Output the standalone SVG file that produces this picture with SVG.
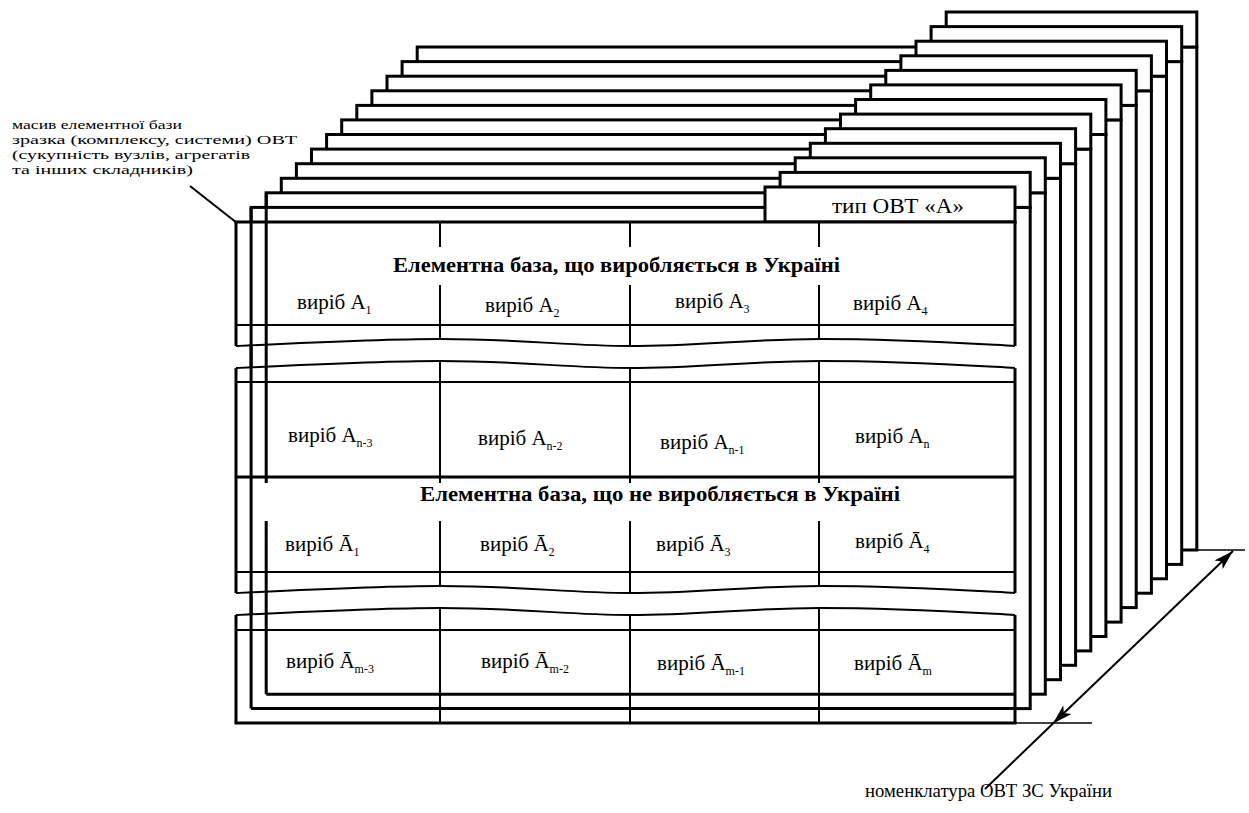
<svg xmlns="http://www.w3.org/2000/svg" width="1249" height="813" viewBox="0 0 1249 813">
<style>
.fr{fill:#fff;stroke:#000;stroke-width:3}
.th{fill:none;stroke:#000;stroke-width:3}
.tn{fill:none;stroke:#000;stroke-width:2}
.ln{fill:none;stroke:#000;stroke-width:1.6}
.t{font-family:"Liberation Serif","DejaVu Serif",serif;font-size:21px;fill:#000}
.h{font-family:"Liberation Serif","DejaVu Serif",serif;font-size:20px;font-weight:bold;fill:#000}
.s{font-size:12px}
.lb{font-family:"Liberation Serif","DejaVu Serif",serif;font-size:13.5px;fill:#000}
</style>
<defs>
<marker id="ah" viewBox="0 0 20 12" refX="20" refY="6" markerWidth="20" markerHeight="12" markerUnits="userSpaceOnUse" orient="auto-start-reverse">
<path d="M0,0 L20,6 L0,12 L5,6 Z" fill="#000"/>
</marker>
</defs>
<rect width="1249" height="813" fill="#fff"/>

<g id="frames-back">
<g id="frame12"><rect class="fr" x="417.2" y="47" width="779.6" height="503"/><rect class="fr" x="946.2" y="12" width="250.6" height="35"/></g>
<g id="frame11"><rect class="fr" x="402.1" y="61.6" width="779.6" height="502.8"/><rect class="fr" x="931.1" y="26.6" width="250.6" height="35"/></g>
<g id="frame10"><rect class="fr" x="387" y="76.2" width="779.5" height="502.6"/><rect class="fr" x="916" y="41.2" width="250.5" height="35"/></g>
<g id="frame9"><rect class="fr" x="371.9" y="90.8" width="779.5" height="502.4"/><rect class="fr" x="900.9" y="55.8" width="250.5" height="35"/></g>
<g id="frame8"><rect class="fr" x="356.8" y="105.4" width="779.4" height="502.2"/><rect class="fr" x="885.8" y="70.4" width="250.4" height="35"/></g>
<g id="frame7"><rect class="fr" x="341.7" y="119.9" width="779.4" height="502.2"/><rect class="fr" x="870.7" y="84.9" width="250.4" height="35"/></g>
<g id="frame6"><rect class="fr" x="326.6" y="134.5" width="779.3" height="502"/><rect class="fr" x="855.6" y="99.5" width="250.3" height="35"/></g>
<g id="frame5"><rect class="fr" x="311.5" y="149.1" width="779.3" height="501.8"/><rect class="fr" x="840.5" y="114.1" width="250.3" height="35"/></g>
<g id="frame4"><rect class="fr" x="296.4" y="163.7" width="779.2" height="501.6"/><rect class="fr" x="825.4" y="128.7" width="250.2" height="35"/></g>
<g id="frame3"><rect class="fr" x="281.3" y="178.3" width="779.2" height="501.4"/><rect class="fr" x="810.3" y="143.3" width="250.2" height="35"/></g>
<g id="frame2"><rect class="fr" x="266.2" y="192.8" width="779.1" height="501.4"/><rect class="fr" x="795.2" y="157.8" width="250.1" height="35"/></g>
<g id="frame1"><rect class="fr" x="251.1" y="207.4" width="779.1" height="501.2"/><rect class="fr" x="780.1" y="172.4" width="250.1" height="35"/></g>
</g>

<g id="front-panel">
<g id="type-tab">
<rect class="fr" x="765" y="187" width="250" height="35"/>
<text class="t" x="832" y="213" textLength="132" lengthAdjust="spacingAndGlyphs">тип ОВТ «А»</text>
</g>
<path fill="#fff" d="M236,222 H1015 V346 C960,343 900,339 820,339 C750,339 700,346 630,346 C570,346 520,339 440,339 C380,339 320,342 236,346 Z"/>
<path fill="#fff" d="M236,368 C320,364 380,361 440,361 C520,361 570,368 630,368 C700,368 750,361 820,361 C900,361 960,365 1015,368 V593 C960,590 900,586 820,586 C750,586 700,593 630,593 C570,593 520,586 440,586 C380,586 320,589 236,593 Z"/>
<path fill="#fff" d="M236,615 C320,611 380,608 440,608 C520,608 570,615 630,615 C700,615 750,608 820,608 C900,608 960,612 1015,615 V723 H236 Z"/>
<line class="th" x1="251.1" y1="207.4" x2="251.1" y2="708.6"/>
<line class="th" x1="266.2" y1="192.8" x2="266.2" y2="694.2"/>
<line class="th" x1="251.1" y1="708.6" x2="1015" y2="708.6"/>
<line class="th" x1="266.2" y1="694.2" x2="1015" y2="694.2"/>
<line class="th" x1="234.5" y1="222" x2="1016.5" y2="222"/>
<line class="th" x1="234.5" y1="723" x2="1016.5" y2="723"/>
<path class="th" d="M236,222 V346 M236,368 V593 M236,615 V723 M1015,222 V346 M1015,368 V593 M1015,615 V723"/>
<path class="tn" d="M236,346 C320,342 380,339 440,339 C520,339 570,346 630,346 C700,346 750,339 820,339 C900,339 960,343 1015,346"/>
<path class="tn" d="M236,368 C320,364 380,361 440,361 C520,361 570,368 630,368 C700,368 750,361 820,361 C900,361 960,365 1015,368"/>
<path class="tn" d="M236,593 C320,589 380,586 440,586 C520,586 570,593 630,593 C700,593 750,586 820,586 C900,586 960,590 1015,593"/>
<path class="tn" d="M236,615 C320,611 380,608 440,608 C520,608 570,615 630,615 C700,615 750,608 820,608 C900,608 960,612 1015,615"/>
<path class="tn" d="M236,325 H1015 M236,382 H1015 M236,572 H1015 M236,630 H1015"/>
<line class="th" x1="236" y1="477" x2="1015" y2="477"/>
<path class="tn" d="M440,222 V339 M630,222 V346 M819,222 V339 M440,361 V586 M630,368 V593 M819,361 V586 M440,608 V723 M630,615 V723 M819,608 V723"/>
<rect fill="#fff" x="300" y="247" width="690" height="38"/>
<rect fill="#fff" x="264" y="483" width="749" height="38"/>
<text class="h" x="393" y="272" textLength="447" lengthAdjust="spacingAndGlyphs">Елементна база, що виробляється в Україні</text>
<text class="h" x="420" y="501" textLength="480" lengthAdjust="spacingAndGlyphs">Елементна база, що не виробляється в Україні</text>
<text class="t" x="297" y="309">виріб A<tspan class="s" dy="5">1</tspan></text>
<text class="t" x="485" y="312">виріб A<tspan class="s" dy="5">2</tspan></text>
<text class="t" x="675" y="308">виріб A<tspan class="s" dy="5">3</tspan></text>
<text class="t" x="853" y="310">виріб A<tspan class="s" dy="5">4</tspan></text>
<text class="t" x="288" y="442">виріб A<tspan class="s" dy="5">n-3</tspan></text>
<text class="t" x="478" y="445">виріб A<tspan class="s" dy="5">n-2</tspan></text>
<text class="t" x="660" y="449">виріб A<tspan class="s" dy="5">n-1</tspan></text>
<text class="t" x="855" y="443">виріб A<tspan class="s" dy="5">n</tspan></text>
<text class="t" x="285" y="551">виріб Ā<tspan class="s" dy="5">1</tspan></text>
<text class="t" x="480" y="551">виріб Ā<tspan class="s" dy="5">2</tspan></text>
<text class="t" x="656" y="551">виріб Ā<tspan class="s" dy="5">3</tspan></text>
<text class="t" x="855" y="548">виріб Ā<tspan class="s" dy="5">4</tspan></text>
<text class="t" x="286" y="668">виріб Ā<tspan class="s" dy="5">m-3</tspan></text>
<text class="t" x="481" y="668">виріб Ā<tspan class="s" dy="5">m-2</tspan></text>
<text class="t" x="657" y="670">виріб Ā<tspan class="s" dy="5">m-1</tspan></text>
<text class="t" x="854" y="670">виріб Ā<tspan class="s" dy="5">m</tspan></text>
</g>

<g id="label-array">
<text class="lb" x="12" y="129" style="font-size:13px" textLength="170" lengthAdjust="spacingAndGlyphs">масив елементної бази</text>
<text class="lb" x="12" y="144" textLength="285" lengthAdjust="spacingAndGlyphs">зразка (комплексу, системи) ОВТ</text>
<text class="lb" x="12" y="159" textLength="238" lengthAdjust="spacingAndGlyphs">(сукупність вузлів, агрегатів</text>
<text class="lb" x="12" y="174" textLength="181" lengthAdjust="spacingAndGlyphs">та інших складників)</text>
</g>

<g id="label-nomenclature">
<text class="t" x="865" y="797" style="font-size:18px" textLength="247" lengthAdjust="spacingAndGlyphs">номенклатура ОВТ ЗС України</text>
</g>

<g id="connectors">
<line class="tn" x1="190" y1="186" x2="237" y2="223"/>
<line class="ln" x1="1015" y1="723" x2="1092" y2="723"/>
<line class="ln" x1="1197" y1="550" x2="1245" y2="550"/>
<line class="tn" x1="985" y1="789" x2="1053" y2="723.5"/>
<line class="tn" x1="1053" y1="723.5" x2="1233" y2="551" marker-start="url(#ah)" marker-end="url(#ah)"/>
</g>
</svg>
